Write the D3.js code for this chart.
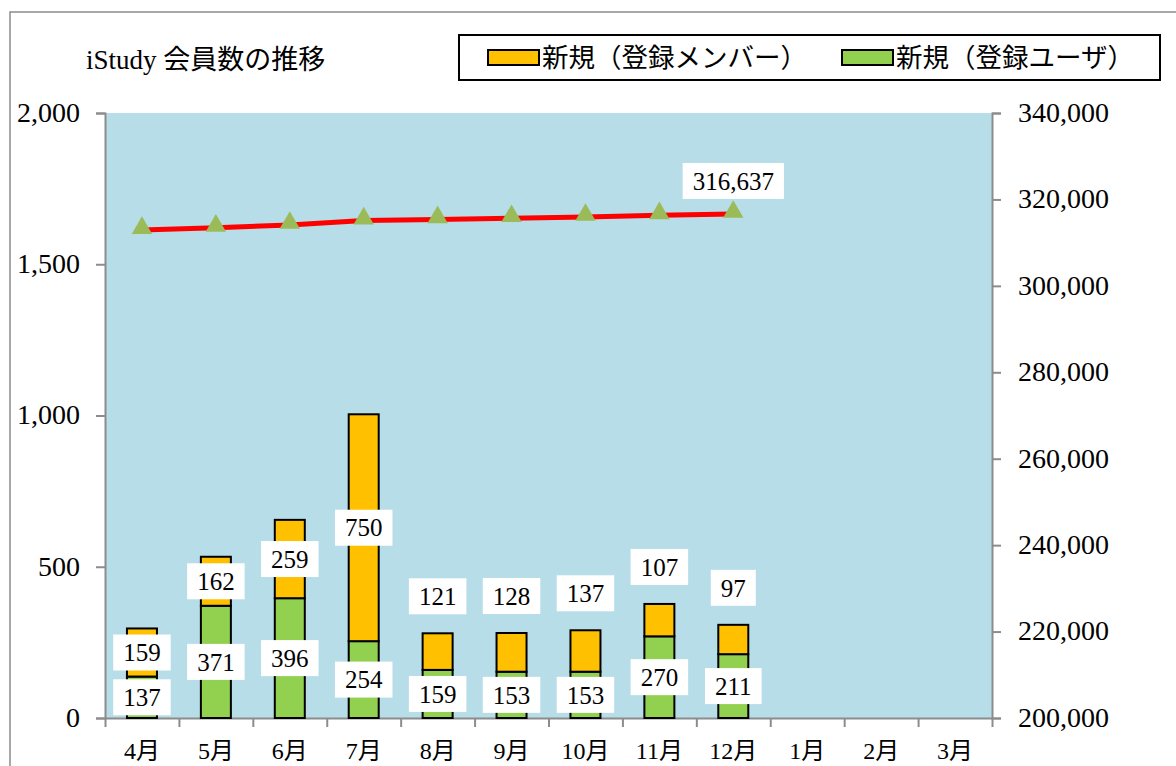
<!DOCTYPE html>
<html>
<head>
<meta charset="utf-8">
<script src="https://cdn.jsdelivr.net/npm/d3@7"></script>
<style>
  body { margin: 0; background: #fff; }
  svg text { font-family: "Liberation Serif", "Noto Sans CJK JP", serif; fill: #000; }
</style>
</head>
<body>
<div class="chart"></div>
<script>
var months = ["4月", "5月", "6月", "7月", "8月", "9月", "10月", "11月", "12月", "1月", "2月", "3月"];
var userNew = [137, 371, 396, 254, 159, 153, 153, 270, 211];
var memberNew = [159, 162, 259, 750, 121, 128, 137, 107, 97];
var totalMembers = [312909, 313442, 314097, 315101, 315381, 315662, 315952, 316329, 316637];
var leftTicks = [0, 500, 1000, 1500, 2000];
var rightTicks = [200000, 220000, 240000, 260000, 280000, 300000, 320000, 340000];
var seriesNames = ["新規（登録メンバー）", "新規（登録ユーザ）"];
var title = "iStudy 会員数の推移";

var svgWidth = 1176;
var svgHeight = 766;
var plot = { left: 105, right: 992, top: 113, bottom: 718 };

var svg = d3.select(".chart")
  .append("svg")
  .attr("width", svgWidth)
  .attr("height", svgHeight);

// outer chart frame (runs off the page on right/bottom like the source)
svg.append("rect")
  .attr("x", 10).attr("y", 12)
  .attr("width", 1300).attr("height", 900)
  .attr("fill", "#fff")
  .attr("stroke", "#8c8c8c")
  .attr("stroke-width", 1.5);

var x = d3.scaleBand().domain(months).range([plot.left, plot.right]);
var xEdge = d3.scaleLinear().domain([0, months.length]).range([plot.left, plot.right]);
var yL = d3.scaleLinear().domain([0, 2000]).range([plot.bottom, plot.top]);
var yR = d3.scaleLinear().domain([200000, 340000]).range([plot.bottom, plot.top]);

svg.append("rect")
  .attr("x", plot.left).attr("y", plot.top)
  .attr("width", plot.right - plot.left)
  .attr("height", plot.bottom - plot.top)
  .attr("fill", "#b7dde8");

// axes
var fmt = d3.format(",");
var leftAxis = svg.append("g")
  .attr("transform", `translate(${plot.left},0)`)
  .call(d3.axisLeft(yL).tickValues(leftTicks).tickFormat(fmt).tickSize(9).tickSizeOuter(9).tickPadding(16));

var rightAxis = svg.append("g")
  .attr("transform", `translate(${plot.right},0)`)
  .call(d3.axisRight(yR).tickValues(rightTicks).tickFormat(fmt).tickSize(9).tickSizeOuter(9).tickPadding(17));

var edgeAxis = svg.append("g")
  .attr("transform", `translate(0,${plot.bottom})`)
  .call(d3.axisBottom(xEdge).tickValues(d3.range(months.length + 1)).tickFormat("").tickSize(9).tickSizeOuter(0));

var monthAxis = svg.append("g")
  .attr("transform", `translate(0,${plot.bottom})`)
  .call(d3.axisBottom(x).tickSize(0).tickPadding(24));
monthAxis.select(".domain").remove();

[leftAxis, rightAxis, edgeAxis].forEach(function(g) {
  g.selectAll(".domain").attr("stroke", "#8c8c8c").attr("stroke-width", 2);
  g.selectAll(".tick line").attr("stroke", "#8c8c8c").attr("stroke-width", 2);
});
svg.selectAll(".tick text")
  .attr("font-family", "Liberation Serif, Noto Sans CJK JP, serif")
  .attr("font-size", 28)
  .attr("fill", "#000");
leftAxis.selectAll(".tick text").attr("dy", "0.3em");
rightAxis.selectAll(".tick text").attr("dy", "0.3em");
monthAxis.selectAll(".tick text").attr("font-size", 24);

// stacked bars
var barW = 30;
var bars = svg.append("g");
userNew.forEach(function(v, i) {
  var cx = x(months[i]) + x.bandwidth() / 2;
  bars.append("rect")
    .attr("x", cx - barW / 2).attr("y", yL(v))
    .attr("width", barW).attr("height", yL(0) - yL(v))
    .attr("fill", "#92d050").attr("stroke", "#000").attr("stroke-width", 2);
  var m = memberNew[i];
  bars.append("rect")
    .attr("x", cx - barW / 2).attr("y", yL(v + m))
    .attr("width", barW).attr("height", yL(v) - yL(v + m))
    .attr("fill", "#ffc000").attr("stroke", "#000").attr("stroke-width", 2);
});

// line for total members
var line = d3.line()
  .x(function(d, i) { return x(months[i]) + x.bandwidth() / 2; })
  .y(function(d) { return yR(d); });

svg.append("path")
  .datum(totalMembers)
  .attr("d", line)
  .attr("fill", "none")
  .attr("stroke", "#ff0000")
  .attr("stroke-width", 5);

var tri = d3.symbol().type(d3.symbolTriangle).size(180);
svg.append("g").selectAll("path")
  .data(totalMembers)
  .enter()
  .append("path")
  .attr("d", tri)
  .attr("transform", function(d, i) {
    return `translate(${x(months[i]) + x.bandwidth() / 2},${yR(d) - 2})`;
  })
  .attr("fill", "#9bbb59");

// boxed data labels
var labels = svg.append("g");
function boxLabel(cx, cy, txt) {
  var g = labels.append("g");
  var t = g.append("text")
    .attr("x", cx).attr("y", cy)
    .attr("text-anchor", "middle")
    .attr("dy", "0.35em")
    .attr("font-size", 25)
    .text(txt);
  var w = t.node().getComputedTextLength() + 20;
  g.insert("rect", "text")
    .attr("x", cx - w / 2).attr("y", cy - 18)
    .attr("width", w).attr("height", 36)
    .attr("fill", "#fff");
}

userNew.forEach(function(v, i) {
  var cx = x(months[i]) + x.bandwidth() / 2;
  boxLabel(cx, (yL(0) + yL(v)) / 2, fmt(v));
  var m = memberNew[i];
  var cy = (yL(v) + yL(v + m)) / 2;
  // small top segments get their label lifted above the bar
  if (i >= 4) cy = yL(v + m) - 37;
  boxLabel(cx, cy, fmt(m));
});

var last = totalMembers.length - 1;
boxLabel(x(months[last]) + x.bandwidth() / 2, yR(totalMembers[last]) - 33, fmt(totalMembers[last]));

// title
svg.append("text")
  .attr("x", 86).attr("y", 69)
  .attr("font-size", 27)
  .text(title);

// legend
var legend = svg.append("g");
legend.append("rect")
  .attr("x", 459).attr("y", 35)
  .attr("width", 701).attr("height", 45)
  .attr("fill", "#fff").attr("stroke", "#000").attr("stroke-width", 2);
var legendColors = ["#ffc000", "#92d050"];
var legendX = [488, 842];
seriesNames.forEach(function(name, i) {
  legend.append("rect")
    .attr("x", legendX[i]).attr("y", 50)
    .attr("width", 51).attr("height", 15)
    .attr("fill", legendColors[i]).attr("stroke", "#000").attr("stroke-width", 2);
  legend.append("text")
    .attr("x", legendX[i] + 54).attr("y", 67)
    .attr("font-size", 26.5)
    .text(name);
});
</script>
</body>
</html>
